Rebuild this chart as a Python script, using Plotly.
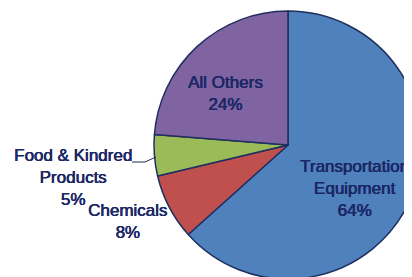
import plotly.graph_objects as go

labels = ["Transportation<br>Equipment", "Chemicals", "Food & Kindred<br>Products", "All Others"]
values = [64, 8, 5, 24]
pct_labels = ["64%", "8%", "5%", "24%"]
colors = ["#4F81BD", "#C0504D", "#9BBB59", "#8064A2"]

# figure is slightly larger than the window: the pie is cut off at right/bottom
W, H = 420, 285
OFF = 8  # page body margin


def px(sx):
    return (sx - OFF) / W


def py(sy):
    return 1 - (sy - OFF) / H


cx, cy, r = 288, 145, 134
fig = go.Figure(go.Pie(
    labels=labels,
    values=values,
    sort=False,
    direction="clockwise",
    rotation=0,
    textinfo="none",
    hoverinfo="label+percent",
    marker=dict(colors=colors, line=dict(color="#1F2F5F", width=1.5)),
    domain=dict(x=[px(cx - r), px(cx + r)], y=[py(cy + r), py(cy - r)]),
    showlegend=False,
))

TXT = "#1C2766"
font = dict(family="Liberation Sans, Arial, sans-serif", size=17, color=TXT,
            shadow=f"0.5px 0 0 {TXT}, 0 0.3px 0 {TXT}")
ann = [
    (354, 188, labels[0] + "<br>" + pct_labels[0]),
    (127, 221, labels[1] + "<br>" + pct_labels[1]),
    (73, 177, labels[2] + "<br>" + pct_labels[2]),
    (225, 93, labels[3] + "<br>" + pct_labels[3]),
]
for x, y, t in ann:
    fig.add_annotation(x=px(x), y=py(y), xref="paper", yref="paper", text=t,
                       showarrow=False, font=font, align="center",
                       xanchor="center", yanchor="middle")

fig.add_shape(type="path", xref="paper", yref="paper",
              path=f"M {px(132)} {py(162)} L {px(145)} {py(162)} L {px(156)} {py(157)}",
              line=dict(color="#1F2F5F", width=1))

fig.update_layout(width=W, height=H, margin=dict(l=0, r=0, t=0, b=0),
                  paper_bgcolor="white", plot_bgcolor="white")
fig.write_html("out.html")
